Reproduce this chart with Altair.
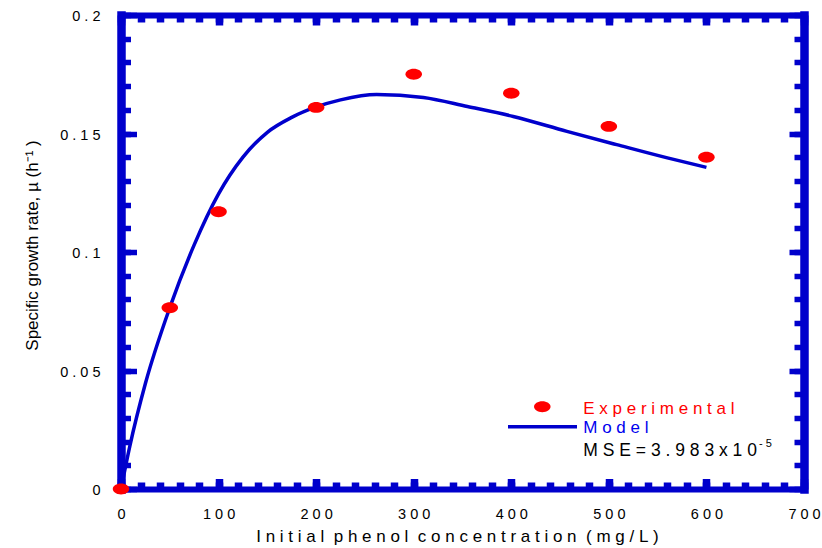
import altair as alt
import pandas as pd

# ---------------- data ----------------
exp_conc = [0, 50, 100, 200, 300, 400, 500, 600]
exp_mu = [0.0, 0.0765, 0.117, 0.161, 0.175, 0.167, 0.153, 0.140]

model_conc = [0, 9, 25, 50, 75, 100, 125, 150, 175, 200, 225, 262,
              310, 355, 402, 457, 508, 560, 600]
model_mu = [0.0, 0.018, 0.0445, 0.0765, 0.103, 0.1245, 0.140, 0.1505, 0.1568,
            0.1612, 0.1642, 0.1665, 0.1652, 0.1614, 0.1572,
            0.1509, 0.1453, 0.1397, 0.1357]

x_major = [0, 100, 200, 300, 400, 500, 600, 700]
x_minor = [0, 20, 40, 60, 80, 100, 120, 140, 160, 180, 200, 220, 240, 260, 280,
           300, 320, 340, 360, 380, 400, 420, 440, 460, 480, 500, 520, 540, 560,
           580, 600, 620, 640, 660, 680, 700]
y_major = [0, 0.05, 0.1, 0.15, 0.2]
y_minor = [0, 0.01, 0.02, 0.03, 0.04, 0.05, 0.06, 0.07, 0.08, 0.09, 0.1, 0.11,
           0.12, 0.13, 0.14, 0.15, 0.16, 0.17, 0.18, 0.19, 0.2]

x_title = "Initial phenol concentration (mg/L)"
y_title = "Specific growth rate, \u00b5 (h\u207b\u00b9\u00a0)"
legend_labels = ["Experimental", "Model"]
mse_text = "MSE=3.983x10"
mse_sup = "-5"

# ---------------- style ----------------
W, H = 683, 474
BLUE = "#0000cc"
RED = "#ff0000"
FONT = "Liberation Sans"
NB = "\u00a0"
ELLIPSE = "M -1 0 A 1 0.66 0 1 0 1 0 A 1 0.66 0 1 0 -1 0 Z"


def spaced(s):
    return (NB * 2).join(NB.join(list(w)) for w in s.split(" "))


exp_df = pd.DataFrame({"c": exp_conc, "mu": exp_mu})
model_df = pd.DataFrame({"c": model_conc, "mu": model_mu})

xscale = alt.Scale(domain=[0, 700], nice=False, zero=False)
yscale = alt.Scale(domain=[0, 0.2], nice=False, zero=False)

spaced_expr = "join(split(datum.label, ''), '\u00a0')"

x_label_axis = alt.Axis(
    orient="bottom", values=x_major, format="d", labelExpr=spaced_expr,
    ticks=False, tickSize=0, domain=False, grid=False, labelFlush=False,
    labelFont=FONT, labelFontSize=14.5, labelColor="black",
    labelBaseline="alphabetic", labelPadding=29,
    title=spaced(x_title), titleFont=FONT, titleFontSize=17,
    titleFontWeight="normal", titleColor="black",
    titleX=336, titleY=52, titleAlign="center", titleBaseline="alphabetic",
)
y_label_axis = alt.Axis(
    orient="left", values=y_major, format=".2~f", labelExpr=spaced_expr,
    ticks=False, tickSize=0, domain=False, grid=False, labelFlush=False,
    labelFont=FONT, labelFontSize=14.5, labelColor="black",
    labelPadding=21, labelOffset=1.5,
    title=y_title, titleFont=FONT, titleFontSize=17,
    titleFontWeight="normal", titleColor="black",
    titleX=-83.5, titleY=230, titleAngle=270, titleAlign="center",
    titleBaseline="alphabetic",
)


def tick_axis_x(orient, values, size, domain):
    return alt.Axis(orient=orient, offset=-H, values=values, tickSize=size,
                    tickWidth=7.5, tickColor=BLUE, ticks=True, labels=False,
                    grid=False, title=None, domain=domain, domainColor=BLUE,
                    domainWidth=6, domainCap="square")


def tick_axis_y(orient, values, size, domain):
    return alt.Axis(orient=orient, offset=-W, values=values, tickSize=size,
                    tickWidth=5.5, tickColor=BLUE, ticks=True, labels=False,
                    grid=False, title=None, domain=domain, domainColor=BLUE,
                    domainWidth=8.5, domainCap="square")


line = alt.Chart(model_df).mark_line(
    color=BLUE, strokeWidth=3.5, interpolate="monotone"
).encode(
    x=alt.X("c:Q", scale=xscale, axis=x_label_axis),
    y=alt.Y("mu:Q", scale=yscale, axis=y_label_axis),
)

points = alt.Chart(exp_df).mark_point(
    shape=ELLIPSE, size=272, filled=True, color=RED, opacity=1
).encode(
    x=alt.X("c:Q", scale=xscale, axis=tick_axis_x("top", x_minor, 7, True)),
    y=alt.Y("mu:Q", scale=yscale, axis=tick_axis_y("right", y_minor, 9.5, True)),
)


def ghost(xa, ya):
    return alt.Chart(exp_df).mark_point(opacity=0).encode(
        x=alt.X("c:Q", scale=xscale, axis=xa),
        y=alt.Y("mu:Q", scale=yscale, axis=ya),
    )


g3 = ghost(tick_axis_x("top", x_major, 10.5, False),
           tick_axis_y("right", y_major, 15.5, False))
g4 = ghost(tick_axis_x("bottom", x_minor, 7, True),
           tick_axis_y("left", y_minor, 10, True))
g5 = ghost(tick_axis_x("bottom", x_major, 10, False),
           tick_axis_y("left", y_major, 15, False))

one = pd.DataFrame({"k": [0]})
leg_dot = alt.Chart(one).mark_point(
    shape=ELLIPSE, size=272, filled=True, color=RED, opacity=1
).encode(x=alt.value(421.3), y=alt.value(391.7))
leg_line = alt.Chart(one).mark_rule(color=BLUE, strokeWidth=3.5).encode(
    x=alt.value(387), x2=alt.value(456), y=alt.value(411.7))


def leg_text(txt, x, y, color, size):
    return alt.Chart(one).mark_text(
        align="left", baseline="alphabetic", font=FONT, fontSize=size, color=color
    ).encode(x=alt.value(x), y=alt.value(y), text=alt.value(txt))


t1 = leg_text(spaced(legend_labels[0]), 462.3, 398.7, RED, 17)
t2 = leg_text(spaced(legend_labels[1]), 462.3, 417.7, "#0000ee", 17)
t3 = leg_text(spaced(mse_text), 462.3, 441, "black", 17.5)
t4 = leg_text(spaced(mse_sup), 638, 431.5, "black", 11)

chart = alt.layer(
    line, points, g3, g4, g5, leg_dot, leg_line, t1, t2, t3, t4
).resolve_axis(
    x="independent", y="independent"
).properties(
    width=W, height=H,
    padding={"left": 121, "top": 15, "right": 18, "bottom": 59},
    autosize=alt.AutoSizeParams(type="none"),
    background="white",
).configure_view(strokeWidth=0)

chart.save("out.html", embed_options={"renderer": "svg", "actions": False})
